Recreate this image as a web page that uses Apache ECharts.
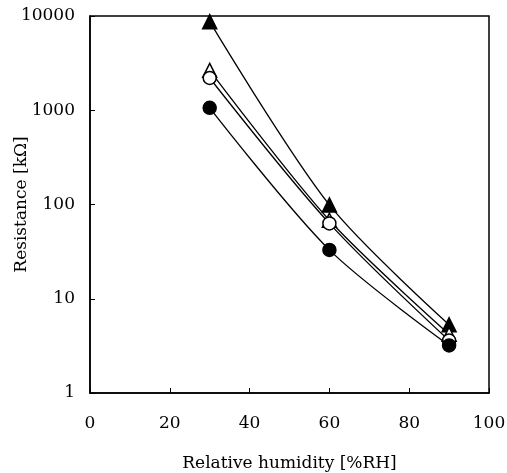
<!DOCTYPE html>
<html>
<head>
<meta charset="utf-8">
<script src="https://cdn.jsdelivr.net/npm/echarts@6/dist/echarts.min.js"></script>
<style>
html,body{margin:0;padding:0;background:#fff;}
#chart{width:507px;height:473px;}
</style>
</head>
<body>
<div id="chart"></div>
<script>
// Data
var humidity = [30, 60, 90];                 // %RH
var filledTriangle = [8700, 99, 5.3];        // kΩ
var openTriangle = [2650, 68, 4.2];
var openCircle = [2200, 63, 3.6];
var filledCircle = [1060, 33, 3.2];
var xTicks = [0, 20, 40, 60, 80, 100];
var yTicks = [1, 10, 100, 1000, 10000];

function pairs(ys) { return humidity.map(function (x, i) { return [x, ys[i]]; }); }

var font = 'DejaVu Serif';
var chart = echarts.init(document.getElementById('chart'), null, {renderer: 'canvas'});

function mkSeries(data, symbol, size, filled, z) {
  return {
    type: 'line',
    data: pairs(data),
    smooth: 0.3,
    symbol: symbol,
    symbolSize: size,
    showSymbol: true,
    z: z,
    lineStyle: {color: '#000', width: 1.3},
    itemStyle: {color: filled ? '#000' : '#fff', borderColor: '#000', borderWidth: 1.5},
    emphasis: {disabled: true},
    animation: false
  };
}

chart.setOption({
  animation: false,
  backgroundColor: '#fff',
  grid: {left: 90, right: 18, top: 16, bottom: 80, containLabel: false, outerBoundsMode: 'none',
    show: true, borderColor: '#000', borderWidth: 1.5, backgroundColor: 'transparent'},
  xAxis: {
    type: 'value',
    min: xTicks[0], max: xTicks[xTicks.length - 1], interval: 20,
    name: 'Relative humidity [%RH]',
    nameLocation: 'middle', nameGap: 62, nameMoveOverlap: false,
    nameTextStyle: {fontFamily: font, fontSize: 17, color: '#000'},
    axisLine: {lineStyle: {color: '#000', width: 1.5}},
    axisTick: {inside: true, length: 5, lineStyle: {color: '#000', width: 1}},
    axisLabel: {fontFamily: font, fontSize: 17, color: '#000', margin: 22,
      formatter: function (v) { return String(v); }},
    splitLine: {show: false}
  },
  yAxis: {
    type: 'log', logBase: 10,
    min: yTicks[0], max: yTicks[yTicks.length - 1],
    name: 'Resistance [kΩ]',
    nameLocation: 'middle', nameGap: 60, nameMoveOverlap: false,
    nameTextStyle: {fontFamily: font, fontSize: 17, color: '#000'},
    axisLine: {lineStyle: {color: '#000', width: 1.5}},
    axisTick: {inside: true, length: 5, lineStyle: {color: '#000', width: 1}},
    axisLabel: {fontFamily: font, fontSize: 17, color: '#000', margin: 15,
      formatter: function (v) { return String(Math.round(v)); }},
    splitLine: {show: false},
    minorTick: {show: false}
  },
  series: [
    mkSeries(filledTriangle, 'triangle', 14, true, 2),
    mkSeries(openTriangle, 'triangle', 14, false, 3),
    mkSeries(openCircle, 'circle', 13, false, 4),
    mkSeries(filledCircle, 'circle', 13, true, 5)
  ]
});
</script>
</body>
</html>
